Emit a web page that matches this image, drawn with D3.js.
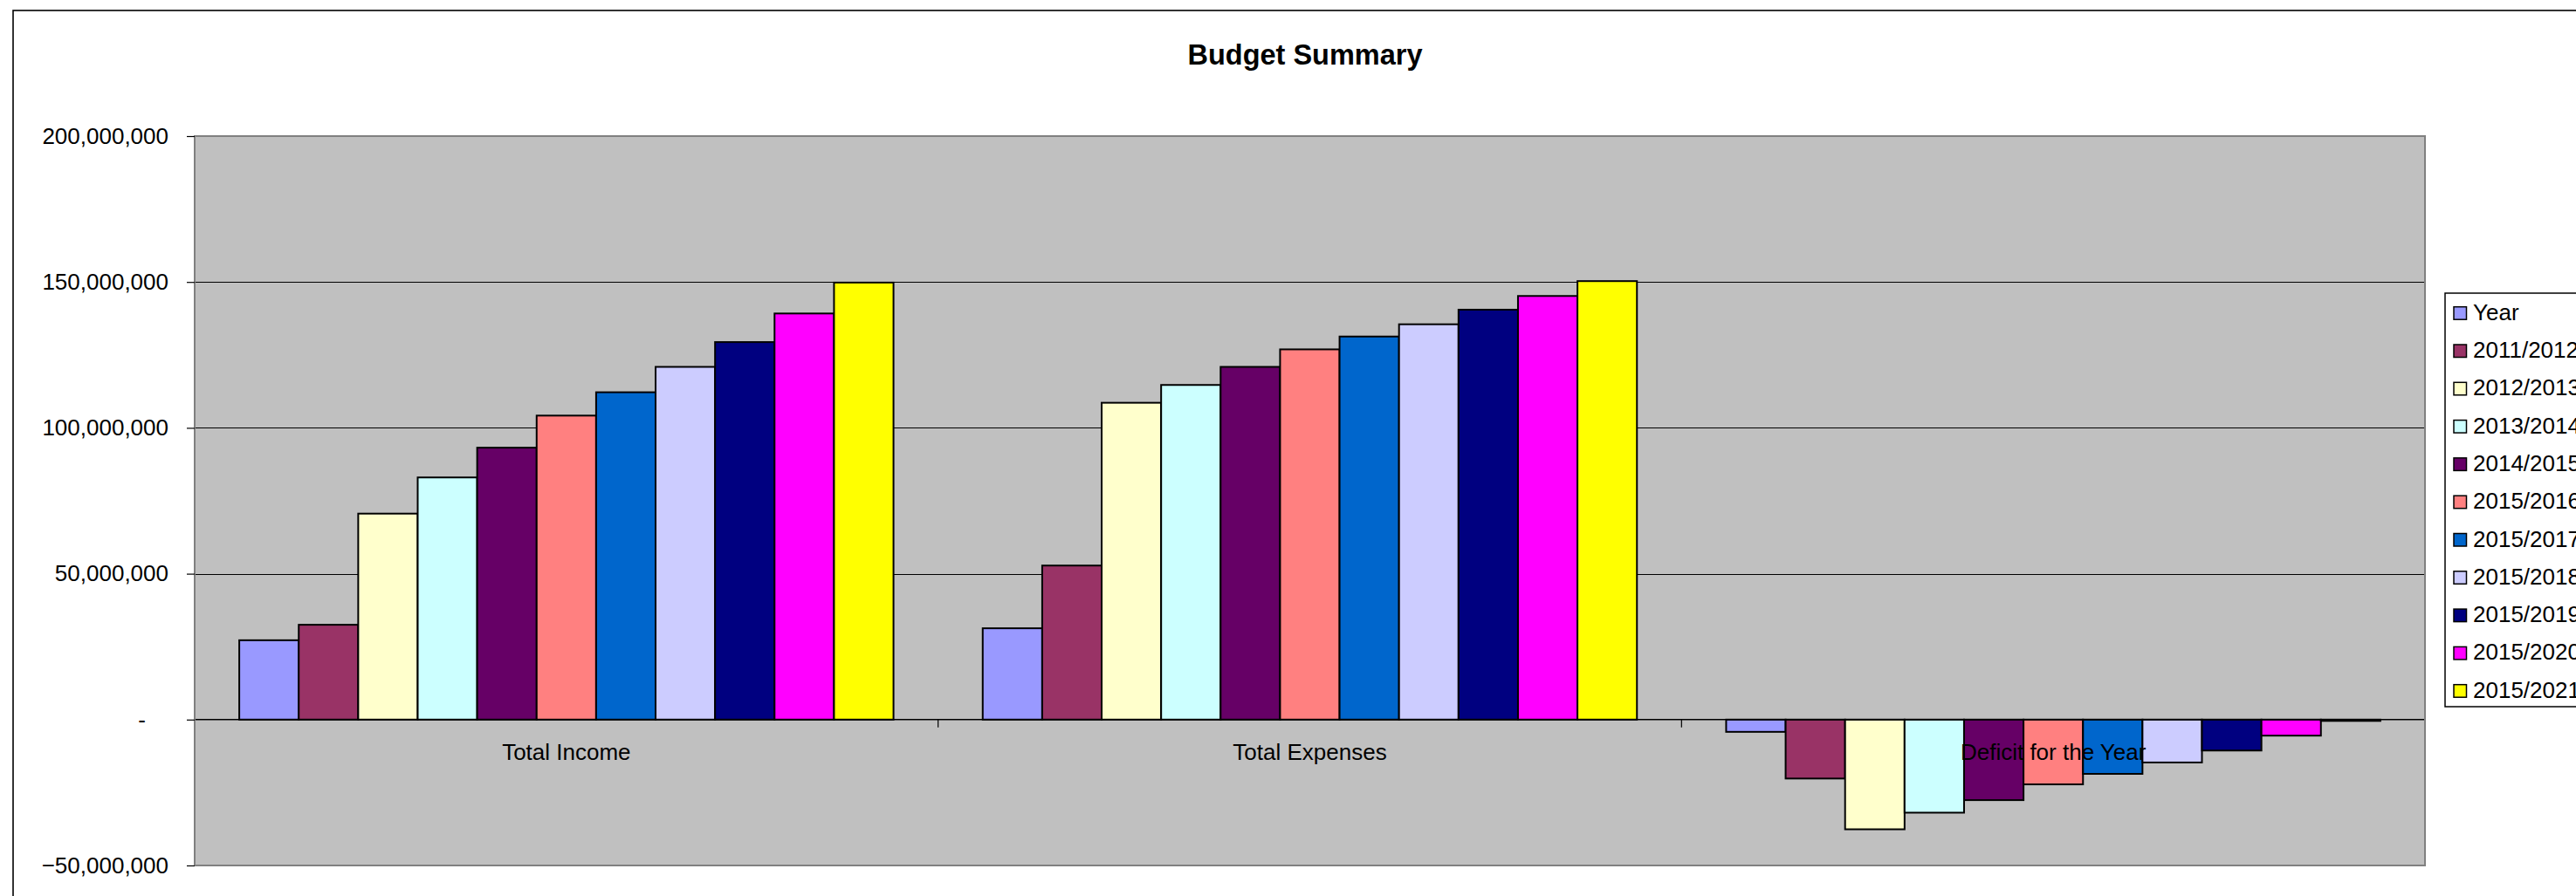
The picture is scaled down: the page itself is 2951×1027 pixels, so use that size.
<!DOCTYPE html>
<html>
<head>
<meta charset="utf-8">
<title>Budget Summary</title>
<script src="https://cdn.jsdelivr.net/npm/d3@7"></script>
<style>
  html, body { margin: 0; padding: 0; background: #fff; overflow: hidden; }
  svg { display: block; font-family: "Liberation Sans", Arial, sans-serif; }
</style>
</head>
<body>
<svg id="chart" width="2951" height="1027"></svg>
<script>
// Budget categories along the x axis
const categories = ["Total Income", "Total Expenses", "Deficit for the Year"];

// One series per year column
const seriesNames = ["Year", "2011/2012", "2012/2013", "2013/2014", "2014/2015",
  "2015/2016", "2015/2017", "2015/2018", "2015/2019", "2015/2020", "2015/2021"];

const seriesColors = ["#9999FF", "#993366", "#FFFFCC", "#CCFFFF", "#660066",
  "#FF8080", "#0066CC", "#CCCCFF", "#000080", "#FF00FF", "#FFFF00"];

// Values per series, in category order (income, expenses, deficit)
const totalIncome = [27.2e6, 32.5e6, 70.6e6, 83.0e6, 93.2e6, 104.2e6, 112.2e6, 120.9e6, 129.4e6, 139.2e6, 149.8e6];
const totalExpenses = [31.3e6, 52.8e6, 108.6e6, 114.7e6, 120.9e6, 126.9e6, 131.3e6, 135.5e6, 140.5e6, 145.2e6, 150.3e6];
const deficit = [-4.2e6, -20.2e6, -37.6e6, -31.9e6, -27.6e6, -22.2e6, -18.6e6, -14.7e6, -10.6e6, -5.5e6, -0.45e6];

const yTicks = [-50e6, 0, 50e6, 100e6, 150e6, 200e6];

const valuesByCategory = [totalIncome, totalExpenses, deficit];

const svg = d3.select("#chart");
const plot = { left: 223, right: 2778, top: 156, bottom: 992 };

// Outer chart frame
svg.append("rect")
  .attr("x", 15).attr("y", 12)
  .attr("width", 3100).attr("height", 1100)
  .attr("fill", "#fff").attr("stroke", "#000").attr("stroke-width", 1.6);

// Title
svg.append("text")
  .attr("x", 1495).attr("y", 74)
  .attr("text-anchor", "middle")
  .attr("font-size", 32.5).attr("font-weight", "bold")
  .text("Budget Summary");

const y = d3.scaleLinear().domain([-50e6, 200e6]).range([plot.bottom, plot.top]);
const x0 = d3.scaleBand().domain(categories).range([plot.left, plot.right]).paddingInner(0).paddingOuter(0);
const x1 = d3.scaleBand().domain(seriesNames).range([0, x0.bandwidth()]).paddingInner(0).paddingOuter(0.75);
const color = d3.scaleOrdinal().domain(seriesNames).range(seriesColors);

// Plot background
svg.append("rect")
  .attr("x", plot.left).attr("y", plot.top)
  .attr("width", plot.right - plot.left).attr("height", plot.bottom - plot.top)
  .attr("fill", "#C0C0C0");

// Horizontal gridlines
svg.append("g")
  .selectAll("line")
  .data(yTicks.filter(d => d > 0 && d < 200e6))
  .join("line")
  .attr("x1", plot.left).attr("x2", plot.right)
  .attr("y1", d => Math.round(y(d)) + 0.5).attr("y2", d => Math.round(y(d)) + 0.5)
  .attr("stroke", "#000").attr("stroke-width", 1.2);

// Bars
const groups = svg.append("g")
  .selectAll("g")
  .data(categories)
  .join("g")
  .attr("transform", d => `translate(${x0(d)},0)`);

groups.selectAll("rect")
  .data((c, i) => seriesNames.map((s, j) => ({ series: s, value: valuesByCategory[i][j] })))
  .join("rect")
  .attr("x", d => x1(d.series))
  .attr("width", x1.bandwidth())
  .attr("y", d => y(Math.max(0, d.value)))
  .attr("height", d => Math.abs(y(d.value) - y(0)))
  .attr("fill", d => color(d.series))
  .attr("stroke", "#000")
  .attr("stroke-width", 2);

// Category axis line at zero
svg.append("line")
  .attr("x1", plot.left).attr("x2", plot.right)
  .attr("y1", y(0)).attr("y2", y(0))
  .attr("stroke", "#000").attr("stroke-width", 1.5);

// Category boundary ticks
const boundaries = categories.map(c => x0(c)).concat([plot.right]);
svg.append("g")
  .selectAll("line")
  .data(boundaries)
  .join("line")
  .attr("x1", d => d).attr("x2", d => d)
  .attr("y1", y(0)).attr("y2", y(0) + 9)
  .attr("stroke", "#000").attr("stroke-width", 1.2);

// Category labels
const xAxis = svg.append("g")
  .attr("transform", `translate(0,${y(0)})`)
  .call(d3.axisBottom(x0).tickSize(0).tickPadding(28));
xAxis.select(".domain").remove();
xAxis.selectAll("text")
  .attr("font-size", 26)
  .attr("font-family", "'Liberation Sans', Arial, sans-serif")
  .attr("fill", "#000");

// Plot border
svg.append("rect")
  .attr("x", plot.left).attr("y", plot.top)
  .attr("width", plot.right - plot.left).attr("height", plot.bottom - plot.top)
  .attr("fill", "none").attr("stroke", "#808080").attr("stroke-width", 2);

// Value axis
const yAxis = svg.append("g")
  .attr("transform", `translate(${plot.left},0)`)
  .call(d3.axisLeft(y).tickValues(yTicks).tickSize(9).tickPadding(21)
    .tickFormat(d => d === 0 ? "-" : d3.format(",")(d)));
yAxis.select(".domain").remove();
yAxis.selectAll(".tick line").attr("stroke", "#000").attr("stroke-width", 1.2);
yAxis.selectAll("text")
  .attr("font-size", 26)
  .attr("font-family", "'Liberation Sans', Arial, sans-serif")
  .attr("fill", "#000");
yAxis.selectAll(".tick").filter(d => d === 0).select("text").attr("x", -56);

// Legend
const legend = svg.append("g");
legend.append("rect")
  .attr("x", 2801).attr("y", 336)
  .attr("width", 300).attr("height", 474)
  .attr("fill", "#fff").attr("stroke", "#000").attr("stroke-width", 1.5);

const entries = legend.selectAll("g.entry")
  .data(seriesNames)
  .join("g")
  .attr("class", "entry")
  .attr("transform", (d, i) => `translate(2811,${351.7 + i * 43.3})`);

entries.append("rect")
  .attr("width", 14.5).attr("height", 14.5)
  .attr("fill", d => color(d))
  .attr("stroke", "#000").attr("stroke-width", 1.5);

entries.append("text")
  .attr("x", 22).attr("y", 15)
  .attr("font-size", 26)
  .text(d => d);
</script>
</body>
</html>
